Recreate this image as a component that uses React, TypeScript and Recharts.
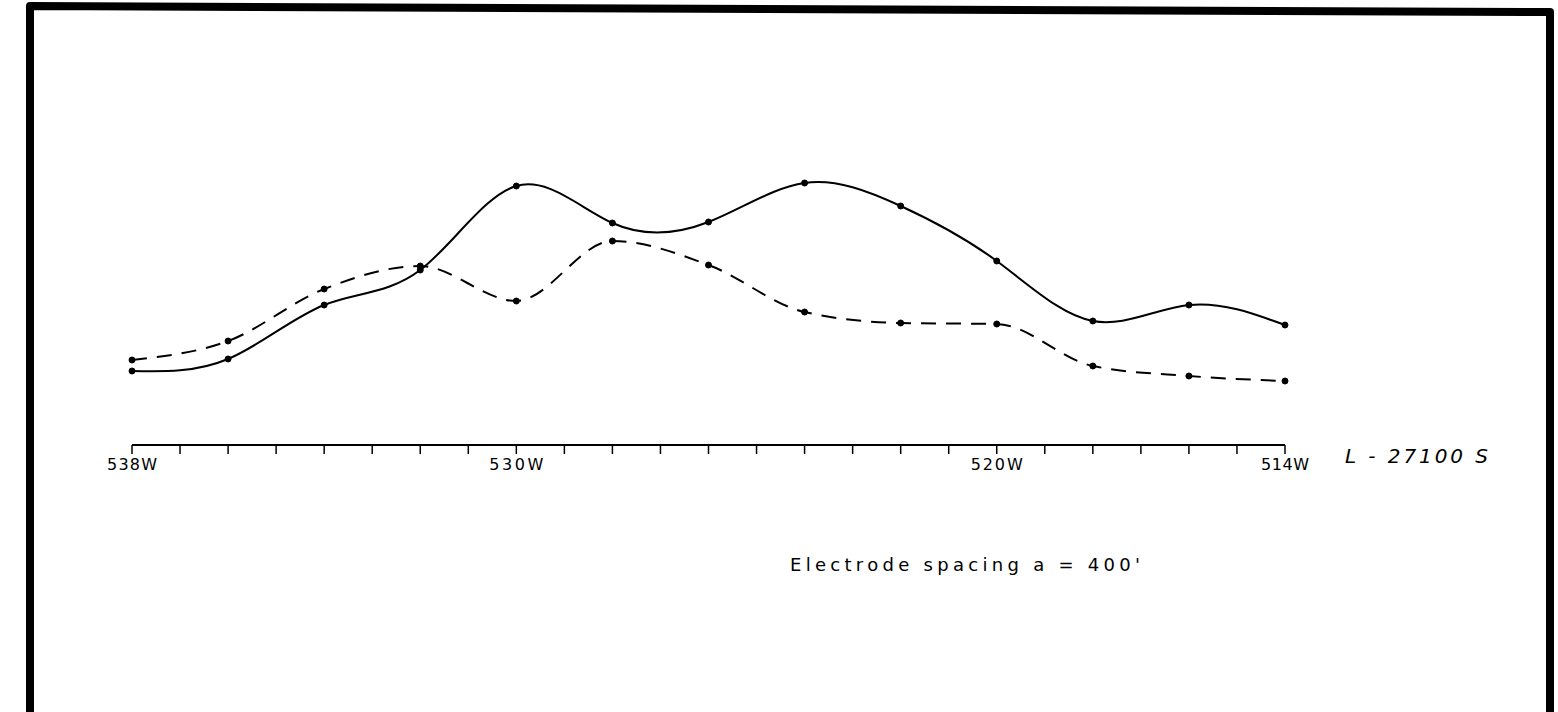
import React from 'react';
import { LineChart, Line, XAxis, YAxis } from 'recharts';

// Survey stations (W) along line L-27100 S
const stations = [538, 536, 534, 532, 530, 528, 526, 524, 522, 520, 518, 516, 514];
// Solid profile (relative height above the base line)
const solidValues = [74, 86, 140, 175, 259, 222, 223, 262, 239, 184, 124, 140, 120];
// Dashed profile
const dashedValues = [85, 104, 156, 179, 144, 204, 180, 133, 122, 121, 79, 69, 64];
// Axis ticks every station, labels at a few
const tickStations = [538, 537, 536, 535, 534, 533, 532, 531, 530, 529, 528, 527, 526, 525, 524, 523, 522, 521, 520, 519, 518, 517, 516, 515, 514];
const labeledStations = [538, 530, 520, 514];
const lineName = 'L - 27100 S';
const noteText = "Electrode spacing  a = 400'";

const data = stations.map((s, i) => ({ station: s, solid: solidValues[i], dashed: dashedValues[i] }));

const W = 1558;
const H = 712;
const FONT = '"DejaVu Sans", "Liberation Sans", sans-serif';

const StationTick = (props: any) => {
  const { x, y, payload } = props;
  const v = payload && payload.value;
  if (!labeledStations.includes(v)) return null;
  const widths: Record<number, number> = { 538: 50, 530: 54, 520: 52, 514: 48 };
  return (
    <text
      x={x}
      y={y + 14}
      textAnchor="middle"
      fontFamily={FONT}
      fontSize={16}
      fill="#000"
      textLength={widths[v]}
      lengthAdjust="spacing"
    >
      {`${v}W`}
    </text>
  );
};

export default function App() {
  return (
    <div style={{ position: 'absolute', left: 0, top: 0, width: W, height: H, background: '#fff' }}>
      <LineChart
        width={W}
        height={H}
        data={data}
        margin={{ left: 132, right: 273, top: 145, bottom: 237 }}
      >
        <XAxis
          dataKey="station"
          type="number"
          domain={[514, 538]}
          reversed
          ticks={tickStations}
          interval={0}
          height={30}
          tickSize={9}
          axisLine={{ stroke: '#000', strokeWidth: 2 }}
          tickLine={{ stroke: '#000', strokeWidth: 1.5 }}
          tick={<StationTick />}
        />
        <YAxis hide domain={[0, 300]} />
        <Line
          type="natural"
          dataKey="solid"
          stroke="#000"
          strokeWidth={2}
          dot={{ r: 3, fill: '#000', stroke: '#000', strokeWidth: 1 }}
          isAnimationActive={false}
        />
        <Line
          type="monotone"
          dataKey="dashed"
          stroke="#000"
          strokeWidth={2}
          strokeDasharray="15 10"
          dot={{ r: 3, fill: '#000', stroke: '#000', strokeWidth: 1, strokeDasharray: '0' }}
          isAnimationActive={false}
        />
      </LineChart>
      <svg
        width={W}
        height={H}
        style={{ position: 'absolute', left: 0, top: 0, pointerEvents: 'none' }}
      >
        <path d="M30 712 L30 6 L1550 12 L1550 712" fill="none" stroke="#000" strokeWidth={8} strokeLinejoin="round" />
        <text
          x={1345}
          y={463}
          fontFamily={FONT}
          fontStyle="italic"
          fontSize={20}
          fill="#000"
          textLength={143}
          lengthAdjust="spacing"
        >
          {lineName}
        </text>
        <text
          x={790}
          y={571}
          fontFamily={FONT}
          fontSize={18}
          fill="#000"
          textLength={350}
          lengthAdjust="spacing"
        >
          {noteText}
        </text>
      </svg>
    </div>
  );
}
